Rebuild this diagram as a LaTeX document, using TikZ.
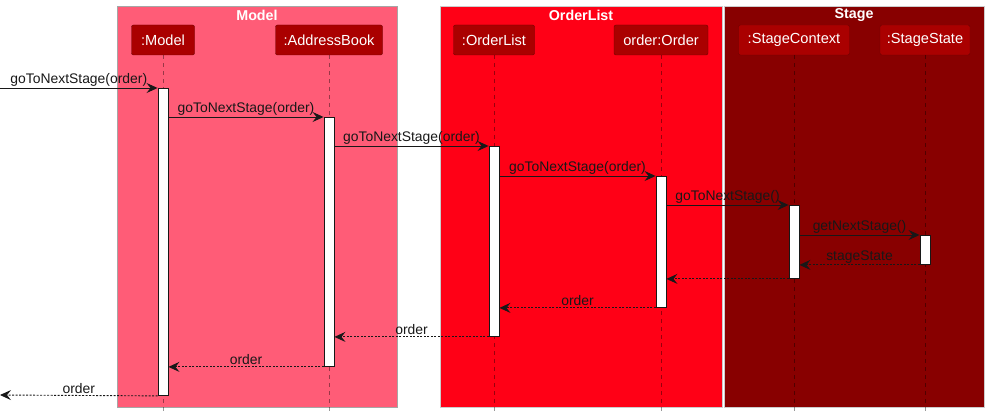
\documentclass[tikz,border=0pt]{standalone}
\usepackage{fontspec}
\setmainfont{Liberation Sans}
\usetikzlibrary{arrows.meta}
\usetikzlibrary{calc}

\definecolor{modelred}{RGB}{255,92,119}
\definecolor{listred}{RGB}{255,0,22}
\definecolor{stagered}{RGB}{136,0,0}
\definecolor{partred}{RGB}{170,0,0}
\definecolor{partline}{RGB}{110,0,0}
\definecolor{msgline}{RGB}{24,24,24}

\begin{document}
\begin{tikzpicture}[x=1pt, y=-1pt,
  font=\fontsize{13.9}{16}\selectfont,
  part/.style={draw=partline, fill=partred, rounded corners=2pt, text=white, minimum height=30pt, inner sep=0pt, font=\fontsize{14.6}{16}\selectfont},
  grp/.style={text=white, font=\fontsize{14.3}{16}\selectfont\bfseries},
  act/.style={draw=msgline, fill=white, line width=0.9pt, minimum width=10pt, inner sep=0pt, anchor=north},
  msg/.style={-{Stealth[length=11pt, width=10pt, inset=4pt]}, color=msgline, line width=0.9pt},
  ret/.style={msg, dash pattern=on 2pt off 1.5pt},
  life/.style={draw=black, draw opacity=0.4, line width=0.8pt, dash pattern=on 4pt off 4pt},
  lbl/.style={above, midway, inner sep=1.5pt, text=msgline}
]

\useasboundingbox (0,0) rectangle (996,417);

% groups
\draw[fill=modelred, draw=black!35] (117,6) rectangle (397,407);
\draw[fill=listred, draw=black!20] (440,6) rectangle (722,407);
\draw[fill=stagered, draw=black!20] (724,6) rectangle (984,407);
\node[grp] (MODELT) at (257,15) {Model};
\node[grp] (LISTT) at (581,15) {OrderList};
\node[grp] (STAGET) at (854,15) {Stage};

% participants
\node[part, minimum width=63pt] (MODEL) at (163,40) {:Model};
\node[part, minimum width=107pt] (BOOK) at (329,40) {:AddressBook};
\node[part, minimum width=81pt] (LIST) at (494,40) {:OrderList};
\node[part, minimum width=94pt] (ORDER) at (661,40) {order:Order};
\node[part, minimum width=111pt] (CTX) at (794,40) {:StageContext};
\node[part, minimum width=90pt] (STATE) at (925,40) {:StageState};

\coordinate (BOTTOM) at (0,412);
\foreach \p in {MODEL, BOOK, LIST, ORDER, CTX, STATE}
  \draw[life] (\p.south) -- (\p.south |- BOTTOM);

% activations
\node[act, minimum height=307pt] (AMODEL) at (163,88) {};
\node[act, minimum height=249pt] (ABOOK) at (329,117) {};
\node[act, minimum height=190pt] (ALIST) at (494,146) {};
\node[act, minimum height=131pt] (AORDER) at (661,176) {};
\node[act, minimum height=73pt] (ACTX) at (794,205) {};
\node[act, minimum height=29pt] (ASTATE) at (925,235) {};

\coordinate (ENTRY) at (0,88);
\coordinate (EXIT) at (0,395);

% calls
\draw[msg] (ENTRY) -- node[lbl] {goToNextStage(order)} (AMODEL.north west);
\draw[msg] (ABOOK.north west -| AMODEL.east) -- node[lbl] {goToNextStage(order)} (ABOOK.north west);
\draw[msg] (ALIST.north west -| ABOOK.east) -- node[lbl] {goToNextStage(order)} (ALIST.north west);
\draw[msg] (AORDER.north west -| ALIST.east) -- node[lbl] {goToNextStage(order)} (AORDER.north west);
\draw[msg] (ACTX.north west -| AORDER.east) -- node[lbl] {goToNextStage()} (ACTX.north west);
\draw[msg] (ASTATE.north west -| ACTX.east) -- node[lbl] {getNextStage()} (ASTATE.north west);

% returns
\draw[ret] (ASTATE.south west) -- node[lbl] {stageState} (ASTATE.south west -| ACTX.east);
\draw[ret] (ACTX.south west) -- (ACTX.south west -| AORDER.east);
\draw[ret] (AORDER.south west) -- node[lbl] {order} (AORDER.south west -| ALIST.east);
\draw[ret] (ALIST.south west) -- node[lbl] {order} (ALIST.south west -| ABOOK.east);
\draw[ret] (ABOOK.south west) -- node[lbl] {order} (ABOOK.south west -| AMODEL.east);
\draw[ret] (AMODEL.south west) -- node[lbl] {order} (EXIT);

\end{tikzpicture}
\end{document}
